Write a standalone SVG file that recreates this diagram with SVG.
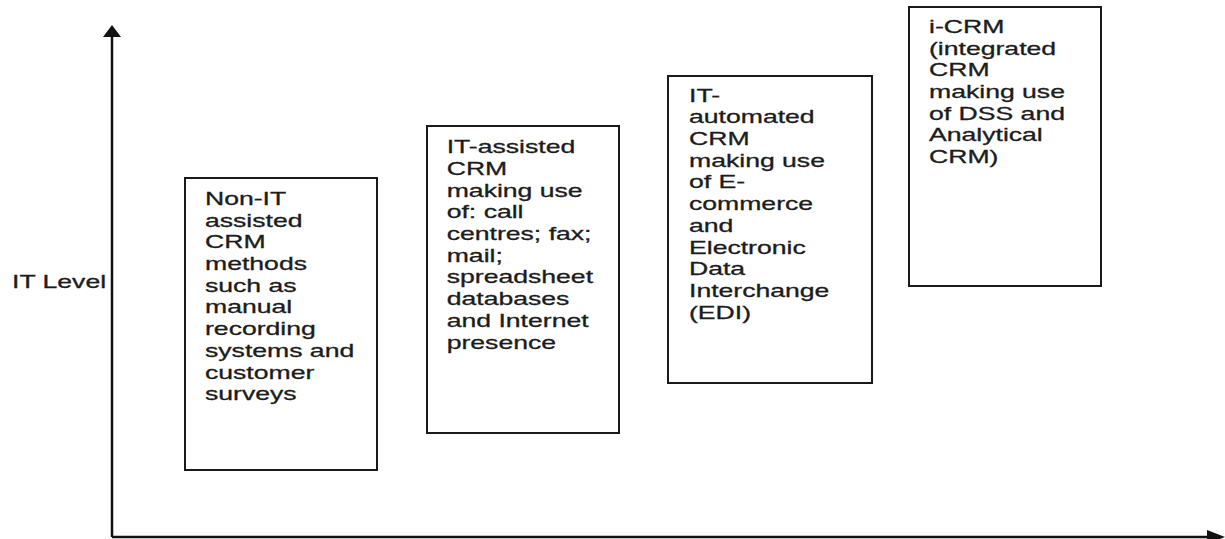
<svg xmlns="http://www.w3.org/2000/svg" width="1225" height="539" viewBox="0 0 1225 539">
<style>
.box{fill:#fff;stroke:#1a1a1a;stroke-width:2}
.axis{fill:none;stroke:#111;stroke-width:2.5}
.t{font-family:"Liberation Sans",Arial,sans-serif;font-size:18.6px;fill:#1c1c1c;stroke:#1c1c1c;stroke-width:0.3}
</style>
<rect width="1225" height="539" fill="#fff"/>
<g id="connectors">
<line class="axis" x1="112" y1="537" x2="112" y2="36"/>
<path d="M103,37 L112,25 L121,37 z" fill="#111"/>
<line class="axis" x1="112" y1="537" x2="1210" y2="537"/>
<path d="M1207,530 L1225,537 L1207,544 z" fill="#111"/>
</g>
<g id="label-itlevel">
<text class="t" transform="translate(12,0) scale(1.43,1)" x="0" y="288">IT Level</text>
</g>
<g id="node-non-it">
<rect class="box" x="185" y="178" width="192" height="292"/>
<text class="t" transform="translate(205,0) scale(1.43,1)">
<tspan x="0" y="205">Non-IT</tspan>
<tspan x="0" y="226.7">assisted</tspan>
<tspan x="0" y="248.4">CRM</tspan>
<tspan x="0" y="270.1">methods</tspan>
<tspan x="0" y="291.8">such as</tspan>
<tspan x="0" y="313.5">manual</tspan>
<tspan x="0" y="335.2">recording</tspan>
<tspan x="0" y="356.9">systems and</tspan>
<tspan x="0" y="378.6">customer</tspan>
<tspan x="0" y="400.3">surveys</tspan>
</text>
</g>
<g id="node-it-assisted">
<rect class="box" x="427" y="126" width="192" height="307"/>
<text class="t" transform="translate(446.7,0) scale(1.43,1)">
<tspan x="0" y="153.3">IT-assisted</tspan>
<tspan x="0" y="175">CRM</tspan>
<tspan x="0" y="196.7">making use</tspan>
<tspan x="0" y="218.4">of: call</tspan>
<tspan x="0" y="240.1">centres; fax;</tspan>
<tspan x="0" y="261.8">mail;</tspan>
<tspan x="0" y="283.5">spreadsheet</tspan>
<tspan x="0" y="305.2">databases</tspan>
<tspan x="0" y="326.9">and Internet</tspan>
<tspan x="0" y="348.6">presence</tspan>
</text>
</g>
<g id="node-it-automated">
<rect class="box" x="668" y="76" width="204" height="307"/>
<text class="t" transform="translate(689,0) scale(1.43,1)">
<tspan x="0" y="101.7">IT-</tspan>
<tspan x="0" y="123.4">automated</tspan>
<tspan x="0" y="145.1">CRM</tspan>
<tspan x="0" y="166.8">making use</tspan>
<tspan x="0" y="188.5">of E-</tspan>
<tspan x="0" y="210.2">commerce</tspan>
<tspan x="0" y="231.9">and</tspan>
<tspan x="0" y="253.6">Electronic</tspan>
<tspan x="0" y="275.3">Data</tspan>
<tspan x="0" y="297">Interchange</tspan>
<tspan x="0" y="318.7">(EDI)</tspan>
</text>
</g>
<g id="node-i-crm">
<rect class="box" x="909" y="7" width="192" height="279"/>
<text class="t" transform="translate(929,0) scale(1.43,1)">
<tspan x="0" y="33">i-CRM</tspan>
<tspan x="0" y="54.7">(integrated</tspan>
<tspan x="0" y="76.4">CRM</tspan>
<tspan x="0" y="98.1">making use</tspan>
<tspan x="0" y="119.8">of DSS and</tspan>
<tspan x="0" y="141.5">Analytical</tspan>
<tspan x="0" y="163.2">CRM)</tspan>
</text>
</g>
</svg>
